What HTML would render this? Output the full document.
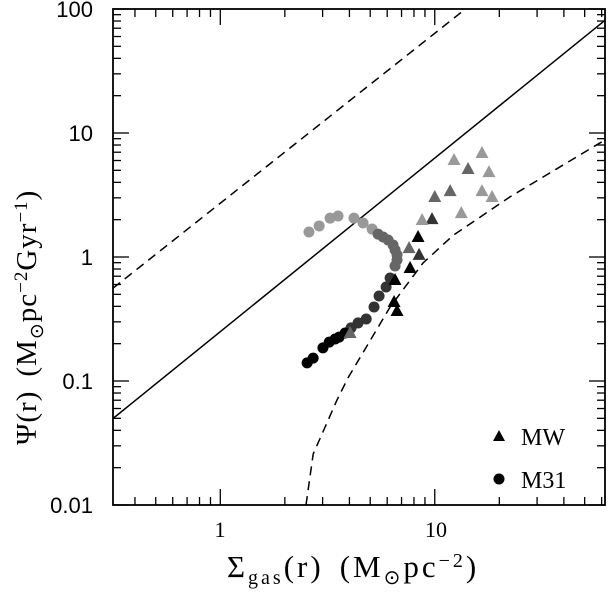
<!DOCTYPE html>
<html><head><meta charset="utf-8">
<style>
html,body{margin:0;padding:0;background:#fff;}
svg{display:block;}
text{fill:#000;}
.tick{font-family:"Liberation Serif",serif;font-size:22px;}
.ytick{font-family:"Liberation Sans",sans-serif;font-size:22px;}
.ttl{font-family:"Liberation Serif",serif;font-size:29px;letter-spacing:1px;}
.xttl{font-family:"Liberation Serif",serif;font-size:31px;letter-spacing:3px;}
.leg{font-family:"Liberation Serif",serif;font-size:24px;}
</style></head>
<body>
<svg id="chart" width="608" height="598" viewBox="0 0 608 598" xmlns="http://www.w3.org/2000/svg">
<g id="plot"></g>
<text class="ytick" x="93" y="513" text-anchor="end">0.01</text>
<text class="ytick" x="93" y="389" text-anchor="end">0.1</text>
<text class="ytick" x="93" y="265" text-anchor="end">1</text>
<text class="ytick" x="93" y="141" text-anchor="end">10</text>
<text class="ytick" x="93" y="17" text-anchor="end">100</text>
<text class="tick" x="220" y="537" text-anchor="middle">1</text>
<text class="tick" x="436" y="537" text-anchor="middle">10</text>
<text class="xttl" x="227" y="577">Σ<tspan font-size="20" dy="7">gas</tspan><tspan dy="-7">(r)</tspan><tspan dx="16">(M</tspan><tspan font-size="20" dy="7">⊙</tspan><tspan dy="-7">pc</tspan><tspan font-size="20" dy="-10">−2</tspan><tspan dy="10">)</tspan></text>
<text class="ttl" transform="translate(36,445) rotate(-90)">Ψ(r)<tspan dx="14">(M</tspan><tspan font-size="19" dy="7">⊙</tspan><tspan dy="-7">pc</tspan><tspan font-size="19" dy="-9">−2</tspan><tspan dy="9">Gyr</tspan><tspan font-size="19" dy="-9">−1</tspan><tspan dy="9">)</tspan></text>
<g>
<polygon points="493,441 505,441 499,430" fill="#000"/>
<text class="leg" x="521" y="445">MW</text>
<circle cx="499" cy="479" r="5.5" fill="#000"/>
<text class="leg" x="521" y="488">M31</text>
</g>
</svg>
<script>
// data
const xDomain = [0.316, 62.2];
const yDomain = [0.01, 100];
const solidLineX = [0.316, 62.2];
const solidLineY = [0.0498, 81];
const upperDashX = [0.316, 13.9];
const upperDashY = [0.56, 100];
const lowerDashX = [2.51, 2.71, 3.50, 3.94, 6.19, 8.81, 12.2, 16.3, 22.4, 62.2];
const lowerDashY = [0.01, 0.0258, 0.0703, 0.106, 0.395, 0.895, 1.50, 2.10, 3.05, 8.79];
const m31X = [2.59,2.89,3.25,3.54,4.20,4.63,5.10,5.44,5.74,6.06,6.39,6.53,6.67,6.67,6.53,6.19,5.93,5.50,5.21,4.79,4.39,4.07,3.82,3.58,3.43,3.22,3.01,2.71,2.54];
const m31Y = [1.59,1.78,2.06,2.14,2.06,1.88,1.68,1.53,1.45,1.37,1.25,1.14,1.04,0.946,0.846,0.677,0.573,0.485,0.395,0.316,0.294,0.268,0.244,0.226,0.218,0.206,0.185,0.153,0.140];
const m31Shade = ['#999','#999','#999','#999','#999','#999','#999','#666','#666','#666','#666','#666','#666','#666','#666','#333','#333','#333','#333','#333','#333','#333','#000','#000','#000','#000','#000','#000','#000'];
const mwX = [16.6,12.3,14.3,17.9,11.8,10.0,16.6,18.5,13.3,9.71,8.73,8.36,7.59,8.45,7.67,6.53,6.46,6.67,4.03];
const mwY = [6.90,6.06,5.13,4.84,3.40,3.05,3.40,3.05,2.26,2.02,1.99,1.45,1.18,1.04,0.815,0.653,0.434,0.367,0.244];
const mwShade = ['#999','#999','#666','#999','#666','#666','#999','#999','#999','#333','#999','#000','#666','#333','#000','#000','#000','#000','#666'];
const xTickMajor = [1, 10];
const xTickMinor = [0.4,0.5,0.6,0.7,0.8,0.9,2,3,4,5,6,7,8,9,20,30,40,50,60];
const yTickMajor = [0.01,0.1,1,10,100];
const yTickMinor = [];
[0.01,0.1,1,10].forEach(d=>{for(let k=2;k<=9;k++) yTickMinor.push(d*k);});

const L=113,R=605,T=9,B=505;
const sx=v=>L+(Math.log10(v)-Math.log10(xDomain[0]))/(Math.log10(xDomain[1])-Math.log10(xDomain[0]))*(R-L);
const sy=v=>B-(Math.log10(v)-Math.log10(yDomain[0]))/(Math.log10(yDomain[1])-Math.log10(yDomain[0]))*(B-T);
const NS='http://www.w3.org/2000/svg';
const g=document.getElementById('plot');
function mk(tag,attrs){const e=document.createElementNS(NS,tag);for(const k in attrs)e.setAttribute(k,attrs[k]);g.appendChild(e);return e;}

const defs=mk('defs',{});
const cp=document.createElementNS(NS,'clipPath');cp.setAttribute('id','clip');
const cr=document.createElementNS(NS,'rect');cr.setAttribute('x',L);cr.setAttribute('y',T);cr.setAttribute('width',R-L);cr.setAttribute('height',B-T);
cp.appendChild(cr);defs.appendChild(cp);

function line(xs,ys,dash,name){
  const p=mk('polyline',{points:xs.map((x,i)=>sx(x).toFixed(1)+','+sy(ys[i]).toFixed(1)).join(' '),fill:'none',stroke:'#000','stroke-width':1.5,'clip-path':'url(#clip)'});
  if(dash)p.setAttribute('stroke-dasharray','9,6');
  
  
}
line(solidLineX,solidLineY,false,'kennicutt-law-line');
line(upperDashX,upperDashY,true,'upper-dashed-line');
line(lowerDashX,lowerDashY,true,'lower-dashed-curve');

m31X.forEach((x,i)=>{
  const c=mk('circle',{cx:sx(x),cy:sy(m31Y[i]),r:5.5,fill:m31Shade[i]});
  
  
});
mwX.forEach((x,i)=>{
  const cx=sx(x),cy=sy(mwY[i]);
  const t=mk('polygon',{points:`${cx-6.5},${cy+5} ${cx+6.5},${cy+5} ${cx},${cy-7}`,fill:mwShade[i]});
  
  
});

function tick(x1,y1,x2,y2,name){
  const t=mk('line',{x1,y1,x2,y2,stroke:'#000','stroke-width':1.3});
  
  
}
xTickMajor.forEach(v=>{const x=sx(v);tick(x,B,x,B-16,'x-major-tick');tick(x,T,x,T+16,'x-major-tick');});
xTickMinor.forEach(v=>{const x=sx(v);tick(x,B,x,B-8,'x-minor-tick');tick(x,T,x,T+8,'x-minor-tick');});
yTickMajor.forEach(v=>{const y=sy(v);tick(L,y,L+16,y,'y-major-tick');tick(R,y,R-16,y,'y-major-tick');});
yTickMinor.forEach(v=>{const y=sy(v);tick(L,y,L+8,y,'y-minor-tick');tick(R,y,R-8,y,'y-minor-tick');});

const fr=mk('rect',{x:L,y:T,width:R-L,height:B-T,fill:'none',stroke:'#000','stroke-width':1.8});


</script>
</body></html>
